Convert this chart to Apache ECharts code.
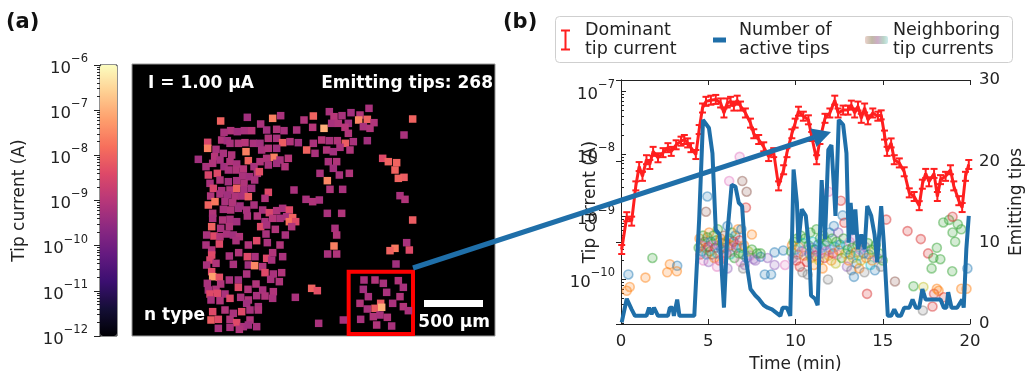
<!DOCTYPE html>
<html>
<head>
<meta charset="utf-8">
<script src="https://cdn.jsdelivr.net/npm/echarts@6/dist/echarts.min.js"></script>
<style>
  html, body { margin: 0; padding: 0; background: #fff; }
  #chart { width: 1026px; height: 378px; }
</style>
</head>
<body>
<div id="chart"></div>
<script>
// ---- panel (a): emitter map, [x, y, log10(tip current / A)] in map units
const mapTips = [
  [352,82,-9.3],[272,93,-8.0],[428,85,-7.6],[452,77,-9.2],[550,78,-8.0],[522,90,-9.1],[598,65,-9.2],[612,80,-9.0],
  [636,77,-9.2],[663,68,-9.3],[690,75,-9.1],[717,55,-9.2],[686,90,-7.5],[712,88,-8.0],[732,98,-9.1],[848,87,-8.0],
  [582,115,-7.0],[500,120,-9.2],[548,112,-9.0],[605,100,-9.2],[625,100,-9.1],[655,100,-9.3],[645,112,-9.0],[700,110,-9.2],
  [720,115,-9.1],[392,102,-9.2],[410,120,-9.3],[440,118,-9.1],[462,122,-9.2],[302,122,-9.1],[322,125,-9.3],[343,122,-9.2],
  [365,122,-9.0],[282,127,-9.2],[655,130,-9.1],[822,135,-9.2],
  [233,157,-8.5],[233,175,-7.6],[258,178,-9.2],[275,150,-9.1],[292,152,-9.3],[300,160,-9.2],[325,160,-9.1],[345,158,-9.0],
  [370,160,-9.2],[390,160,-9.3],[415,145,-9.1],[440,145,-9.2],[458,158,-8.1],[480,155,-9.1],[505,158,-9.3],[550,160,-9.2],
  [575,150,-9.0],[598,152,-9.2],[622,152,-9.1],[646,160,-8.1],[670,155,-9.2],[660,180,-9.1],[712,152,-9.3],[348,185,-7.6],
  [305,195,-9.1],[280,190,-9.2],[254,200,-9.0],[205,208,-9.3],[530,180,-8.0],[555,190,-9.2],[590,180,-9.1],[610,185,-9.3],
  [630,172,-9.2],[432,202,-7.6],[410,205,-9.1],[450,210,-9.2],[475,205,-9.0],[395,180,-9.2],[415,175,-9.1],[440,175,-9.3],
  [758,205,-8.4],[775,215,-8.0],[800,218,-8.0],[228,230,-9.2],[248,220,-9.1],[270,210,-9.2],[282,230,-9.3],[300,215,-9.1],
  [320,222,-9.2],[340,237,-9.0],[355,212,-8.0],[372,230,-9.2],[390,215,-9.1],[415,225,-9.2],[440,220,-9.3],[465,230,-9.1],
  [595,215,-9.2],[620,215,-9.1],[570,250,-9.2],[610,235,-9.3],[235,255,-8.5],[262,250,-8.4],[295,240,-9.2],[318,240,-9.1],
  [338,258,-9.2],[358,260,-9.3],[382,250,-9.1],[388,245,-8.3],[795,240,-8.0],[822,262,-8.1],[805,265,-8.0],[240,280,-9.2],
  [270,270,-9.1],[295,275,-9.3],[320,272,-9.2],[342,280,-9.1],[374,270,-9.2],[592,272,-7.5],[628,255,-9.2],[658,250,-9.1],
  [250,295,-8.5],[275,302,-9.2],[300,300,-9.1],[320,295,-8.0],[342,300,-9.2],[365,295,-9.3],[415,307,-8.4],[492,300,-9.2],
  [600,298,-9.1],[638,298,-9.2],[242,318,-9.1],[270,312,-9.2],[292,315,-9.3],[315,318,-9.1],[335,318,-9.2],[355,320,-8.1],
  [810,317,-9.2],[825,328,-9.1],[235,345,-8.0],[255,335,-7.7],[285,335,-9.2],[308,338,-9.1],[330,348,-9.3],[372,345,-9.2],
  [405,325,-9.1],[528,328,-9.2],[548,335,-9.1],[568,330,-9.2],[280,358,-9.2],[302,360,-9.1],[325,355,-9.3],[350,360,-9.2],
  [248,370,-9.1],[398,360,-9.2],[418,368,-8.5],[440,362,-9.1],[458,355,-9.2],[478,360,-8.4],[470,380,-9.2],[488,383,-8.0],
  [248,385,-9.2],[278,390,-9.1],[300,388,-9.2],[320,395,-9.3],[352,378,-9.2],[382,378,-9.1],[405,395,-9.2],[428,385,-9.0],
  [450,385,-9.2],[478,395,-7.8],[497,395,-8.4],[848,390,-8.1],[592,370,-9.2],[635,370,-9.1],[245,410,-8.0],[272,415,-9.2],
  [298,410,-9.1],[392,410,-8.4],[410,405,-9.2],[436,418,-9.1],[466,435,-9.2],[485,410,-9.1],[230,435,-9.2],[252,438,-8.4],
  [270,440,-9.1],[290,432,-9.2],[310,435,-9.3],[328,440,-9.1],[380,452,-8.4],[408,432,-9.2],[615,415,-9.2],[620,435,-9.1],
  [228,465,-9.2],[245,480,-9.1],[268,462,-8.4],[318,452,-9.2],[355,465,-9.1],[412,458,-9.2],[450,465,-9.1],[612,468,-7.6],
  [593,492,-9.2],[620,492,-9.1],[830,458,-9.2],[795,475,-7.7],[780,482,-8.0],[838,480,-8.4],[245,495,-8.4],[240,510,-8.5],
  [298,498,-9.2],[326,488,-9.1],[352,500,-8.4],[375,500,-9.2],[410,505,-8.4],[428,488,-9.1],[458,500,-9.2],[230,525,-9.2],
  [258,520,-9.1],[310,523,-9.2],[355,525,-9.3],[374,527,-7.5],[398,530,-9.1],[425,510,-9.2],[798,522,-9.3],
  [245,545,-8.4],[248,560,-7.2],[268,562,-8.3],[232,580,-9.2],[272,582,-9.1],[298,570,-9.2],[325,570,-9.3],[350,552,-9.2],
  [378,582,-9.1],[405,548,-8.4],[430,552,-9.2],[455,548,-9.1],[422,568,-9.2],[448,575,-9.1],[235,600,-9.2],[258,598,-9.1],
  [240,612,-8.4],[262,610,-8.4],[285,612,-9.2],[325,592,-8.4],[354,598,-9.1],[398,600,-9.2],[430,605,-9.1],[545,595,-8.0],
  [562,602,-8.3],[496,622,-9.2],[640,690,-9.2],
  [243,630,-9.2],[270,632,-9.1],[300,625,-8.4],[332,622,-9.2],[355,630,-9.1],[380,617,-9.2],[405,618,-9.1],[428,625,-9.2],
  [350,640,-9.3],[385,650,-9.2],[248,665,-8.4],[285,660,-9.1],[310,670,-9.2],[335,665,-8.4],[360,660,-9.2],[385,660,-9.1],
  [243,690,-8.1],[265,688,-8.4],[265,715,-9.2],[300,688,-9.1],[320,698,-8.4],[340,710,-9.2],[360,690,-9.1],[380,710,-9.2],
  [300,712,-9.2],[328,718,-9.1],[355,705,-9.3],[566,700,-9.2],
  [702,570,-9.2],[735,570,-9.1],[760,580,-9.2],[805,572,-9.1],[820,592,-9.2],[700,598,-9.3],[770,607,-9.2],[690,640,-9.1],
  [712,657,-9.2],[735,655,-8.1],[752,640,-8.1],[755,652,-7.0],[788,640,-9.2],[820,650,-9.1],[835,662,-9.2],[730,680,-9.1],
  [750,675,-9.2],[772,682,-9.1],[692,688,-9.2],[740,705,-9.1],[785,708,-9.2],[810,620,-9.1],[715,620,-9.2]
];
const zoomBox = [[656, 545], [849, 732]];
const scaleBar = [[882, 630], [1059, 651]];

// ---- panel (b): dominant tip current (A) vs time (min)
const dominantTime = [0.04,0.33,0.61,0.85,1.04,1.23,1.46,1.65,1.84,2.12,2.41,2.69,2.88,3.16,3.44,3.63,3.82,4.01,4.29,4.48,
  4.67,4.87,5.15,5.43,5.71,5.90,6.09,6.28,6.47,6.66,6.85,7.13,7.42,7.61,7.89,8.18,8.46,8.75,9.03,9.32,
  9.51,9.79,9.98,10.17,10.45,10.74,10.93,11.21,11.40,11.69,11.97,12.25,12.44,12.73,13.01,13.20,13.39,13.58,13.77,13.96,
  14.15,14.43,14.72,14.91,15.10,15.25,15.48,15.66,15.95,16.23,16.52,16.80,17.09,17.27,17.46,17.65,17.94,18.13,18.31,18.60,
  18.88,19.07,19.36,19.55,19.74,19.93];
const dominantCurrent = [3.0e-10,1.0e-9,8.5e-10,3.1e-9,6.3e-9,4.4e-9,8.1e-9,6.8e-9,1.1e-8,8.7e-9,1.05e-8,1.26e-8,1.1e-8,1.4e-8,1.6e-8,1.7e-8,1.5e-8,1.26e-8,9.8e-9,2.45e-8,
  5.4e-8,6.9e-8,7.2e-8,7.4e-8,6.5e-8,4.5e-8,6.5e-8,6.9e-8,5.8e-8,7.2e-8,5.8e-8,4.5e-8,3.1e-8,2.1e-8,1.7e-8,1.3e-8,9.1e-9,1.05e-8,3.1e-9,5.6e-9,
  1.05e-8,2.1e-8,3.1e-8,4.8e-8,4.0e-8,3.5e-8,1.9e-8,8.1e-9,1.7e-8,3.7e-8,4.5e-8,7.2e-8,4.5e-8,5.0e-8,5.0e-8,6.0e-8,4.5e-8,5.8e-8,3.7e-8,5.4e-8,
  3.5e-8,4.5e-8,4.0e-8,4.2e-8,2.0e-8,1.1e-8,1.5e-8,8.1e-9,7.2e-9,5.2e-9,2.4e-9,2.1e-9,1.5e-9,3.3e-9,4.9e-9,3.6e-9,4.9e-9,2.1e-9,3.9e-9,4.4e-9,
  5.6e-9,3.1e-9,1.8e-9,1.4e-9,4.4e-9,6.8e-9];
const dominantRelErr = 0.18;

// number of active tips vs time (min)
const tipsTime = [0.04,0.33,0.61,0.80,1.46,1.61,1.75,1.89,2.12,2.69,2.80,2.95,3.03,3.22,3.35,4.20,4.48,4.70,5.04,5.24,
  5.43,5.65,5.90,6.09,6.34,6.56,6.75,6.94,7.13,7.42,7.70,7.89,8.18,8.40,8.65,9.13,9.26,9.51,9.70,9.89,
  10.08,10.17,10.36,10.59,10.78,10.89,11.12,11.27,11.50,11.69,11.88,12.06,12.21,12.29,12.48,12.73,12.92,13.05,13.16,13.30,
  13.43,13.58,13.77,13.96,14.11,14.34,14.53,14.68,14.91,15.06,15.29,15.48,15.66,15.85,16.04,16.23,16.52,16.71,16.90,17.09,
  17.27,17.46,18.31,18.50,18.65,18.75,18.94,19.26,19.55,19.64,19.79,19.93];
const tipsCount = [0.2,3.1,1.8,1,1,2,1.2,2,1,1,2,2,1,3,1,1,12.9,25.1,24.1,21,
  11.6,11,2,11,17.1,16.9,14.9,14.5,8.4,4.3,3.5,3.1,2.3,2,1.8,1,2,2,1,19,
  14.9,10,14.1,13.3,9.2,3.5,3.1,2.3,17.7,10.4,21.4,22,16.5,13.3,25.1,24.5,21,10,14.9,11,
  14.1,9.2,11,9.2,14.5,13.3,11,7.6,14.5,10,1,1,1.8,1,1,2,2,3,2,2,
  4.3,3,3,2,2,3.9,2,2,3,2,9.2,13.3];

// neighboring tip currents: [time (min), current (A), colour index]
const neighborPoints = [
  [0.42,1.2e-10,0],[0.5,7.6e-11,1],[0.33,6.6e-11,1],[1.4,1.07e-10,1],[1.8,2.2e-10,2],[2.65,1.3e-10,1],[2.8,1.75e-10,1],[3.22,1.65e-10,0],[3.2,1.35e-10,1],
  [4.45,3.2e-10,2],[4.5,4.5e-10,1],[4.55,2.5e-10,3],[4.6,3.5e-10,4],[4.65,2.8e-10,0],[4.7,5.0e-10,2],[4.72,2.0e-10,6],[4.8,4.0e-10,5],
  [4.85,3.2e-10,1],[4.9,2.5e-10,9],[4.95,4.7e-10,2],[5.0,3.3e-10,3],[5.02,1.9e-10,4],[5.05,5.6e-10,1],[5.1,2.8e-10,2],[5.15,4.0e-10,0],
  [5.2,2.5e-10,5],[5.25,3.5e-10,6],[5.3,5.0e-10,2],[5.35,2.2e-10,1],[5.4,3.2e-10,3],[5.45,4.2e-10,2],[5.5,2.6e-10,9],[5.55,6.3e-10,2],
  [5.6,3.5e-10,4],[5.65,2.0e-10,3],[5.7,4.5e-10,1],[5.75,3.0e-10,0],[5.8,3.8e-10,2],[5.85,2.4e-10,6],[5.9,5.0e-10,5],[5.95,3.2e-10,2],
  [6.0,4.0e-10,1],[6.05,2.6e-10,3],[6.1,7.1e-10,0],[6.15,3.3e-10,4],[6.2,4.5e-10,2],[6.25,2.5e-10,9],[6.3,3.5e-10,1],[6.35,5.6e-10,2],
  [6.4,2.8e-10,6],[6.45,4.0e-10,3],[6.5,2.2e-10,2],[6.55,5.0e-10,0],[6.6,3.2e-10,5],[6.65,3.5e-10,4],[6.7,6.3e-10,1],[6.75,2.6e-10,2],
  [6.8,4.2e-10,3],[6.85,1.9e-10,6],[6.9,3.2e-10,9],[7.0,2.5e-10,2],[7.05,3.5e-10,1],[7.1,1.7e-10,4],[7.2,2.2e-10,0],[7.3,2.8e-10,8],
  [7.4,2.4e-10,6],[7.6,2.1e-10,4],[7.8,2.6e-10,2],[8.0,2.3e-10,0],[5.5,1.6e-10,6],[6.1,1.5e-10,4],[7.0,1.5e-10,7],[8.6,1.2e-10,0],
  [4.87,1.2e-9,5],[4.95,2.1e-9,0],[6.2,3.7e-9,6],[6.95,3.7e-9,5],[7.2,2.5e-9,5],[6.8,9e-9,6],[7.16,1.4e-9,3],[7.5,5.2e-10,1],
  [6.9,6.3e-10,0],[8.8,2.7e-10,0],[9.3,2.9e-10,0],[8.24,1.2e-10,0],[8.8,1.7e-10,4],[9.4,1.7e-10,6],[8.4,2.2e-10,4],[8.0,2.6e-10,2],
  [7.5,3.0e-10,2],[7.7,2.0e-10,4],
  [9.75,2.8e-10,2],[9.8,3.5e-10,1],[9.85,2.2e-10,4],[9.9,4.0e-10,2],[10.0,3.0e-10,9],[10.05,2.0e-10,3],[10.1,4.5e-10,2],[10.15,2.5e-10,7],
  [10.2,3.3e-10,1],[10.25,1.6e-10,3],[10.3,5.0e-10,2],[10.35,2.8e-10,4],[10.4,1.3e-10,7],[10.45,3.8e-10,9],[10.5,2.4e-10,1],[10.55,4.5e-10,2],
  [10.6,3.0e-10,6],[10.65,1.9e-10,3],[10.7,1.2e-10,7],[10.75,3.5e-10,2],[10.8,2.6e-10,0],[10.85,5.6e-10,2],[10.9,2.2e-10,8],[10.95,3.2e-10,4],
  [11.0,4.0e-10,9],[11.05,1.7e-10,1],[11.1,3.0e-10,2],[11.15,2.4e-10,3],[11.2,6.3e-10,2],[11.25,2.8e-10,6],[11.3,3.6e-10,0],[11.35,2.0e-10,8],
  [11.4,4.5e-10,2],[11.45,2.6e-10,4],[11.5,3.2e-10,9],[11.55,1.5e-10,1],[11.6,5.0e-10,2],[11.65,2.2e-10,3],[11.7,3.5e-10,0],[11.75,2.8e-10,6],
  [11.8,4.0e-10,2],[11.86,1.0e-10,7],[11.9,2.4e-10,8],[11.95,5.6e-10,0],[12.0,3.0e-10,4],[12.05,2.0e-10,1],[12.1,4.5e-10,2],[12.15,2.6e-10,3],
  [12.2,7.1e-10,0],[12.25,3.3e-10,9],[12.3,1.8e-10,8],[12.35,4.0e-10,2],[12.4,2.5e-10,6],[12.45,5.6e-10,4],[12.5,2.9e-10,1],[12.55,3.6e-10,0],
  [12.6,1.8e-9,3],[12.65,2.2e-10,2],[12.7,1.05e-9,0],[12.75,4.5e-10,2],[12.8,8e-10,3],[12.85,2.6e-10,8],[12.9,3.5e-10,9],[12.95,1.6e-10,4],
  [13.0,3.0e-10,2],[13.05,2.0e-10,1],[13.1,4.0e-10,6],[13.15,2.5e-10,0],[13.2,1.4e-10,7],[13.25,3.2e-10,2],[13.3,2.2e-10,8],[13.35,1.1e-10,0],
  [13.4,4.5e-10,4],[13.45,2.7e-10,1],[13.5,1.8e-10,0],[13.55,3.5e-10,2],[13.6,2.4e-10,9],[13.65,1.5e-10,1],[13.7,3.0e-10,6],[13.75,2.0e-10,8],
  [13.8,4.0e-10,2],[13.9,2.6e-10,0],[13.95,1.3e-10,7],[14.0,3.3e-10,4],[14.05,2.2e-10,1],[14.1,5.9e-11,3],[14.15,3.8e-10,2],[14.2,2.5e-10,0],
  [14.3,1.7e-10,9],[14.35,3.0e-10,2],[14.4,2.0e-10,1],[14.5,2.8e-10,8],[14.55,1.4e-10,0],[14.6,3.5e-10,2],[14.7,2.2e-10,4],[14.8,2.6e-10,2],
  [14.9,1.6e-10,7],[15.0,2.0e-10,2],[15.2,9e-10,3],[11.9,2.5e-9,6],
  [15.7,9.3e-11,5],[16.42,5.9e-10,3],[16.76,7.8e-11,2],[17.18,4.4e-10,3],[17.33,7.6e-11,8],[17.6,2.6e-10,3],[17.9,2.2e-10,2],[18.3,2.1e-10,2],
  [17.8,1.5e-10,2],[18.1,3.2e-10,2],[18.98,1.35e-10,2],[18.47,8.1e-10,2],[18.8,8.9e-10,2],[19.0,5.6e-10,2],[19.3,7.6e-10,2],[19.15,4.0e-10,2],
  [19.5,6.3e-10,2],[19.0,1.0e-9,3],[17.94,5.9e-11,3],[18.1,7.1e-11,1],[18.2,6.6e-11,1],[18.5,5.2e-11,3],[19.5,7.1e-11,1],[17.3,3.2e-11,7],
  [17.85,3.7e-11,3],[19.8,7.1e-11,1],[19.85,1.5e-10,0]
];

const FONT = "'DejaVu Sans', sans-serif";
const magma = ['#000004','#140e36','#3b0f70','#641a80','#8c2981','#b73779','#de4968','#f7705c','#fe9f6d','#fecf92','#fcfdbf'];
const tab10 = ['#1f77b4','#ff7f0e','#2ca02c','#d62728','#9467bd','#8c564b','#e377c2','#7f7f7f','#bcbd22','#17becf'];
const RED = '#ff1f1f';
const BLUE = '#1f6fa9';

const rgba = (hex, a) => {
  const n = parseInt(hex.slice(1), 16);
  return 'rgba(' + (n >> 16) + ',' + ((n >> 8) & 255) + ',' + (n & 255) + ',' + a + ')';
};

const supLabel = (v) => {
  const e = Math.log10(v);
  const r = Math.round(e);
  if (Math.abs(e - r) > 1e-6) return '';
  return '{b|10}{s|' + (r < 0 ? '\u2212' + (-r) : r) + '}';
};
const supRich = {
  b: { fontSize: 16.5, fontFamily: FONT, color: '#222', lineHeight: 24, verticalAlign: 'bottom' },
  s: { fontSize: 11.5, fontFamily: FONT, color: '#222', lineHeight: 24, verticalAlign: 'top' },
};
const legendText = { fontSize: 17.5, lineHeight: 19, color: '#222', fontFamily: FONT };

const chart = echarts.init(document.getElementById('chart'));

chart.setOption({
  animation: false,
  textStyle: { fontFamily: FONT },
  grid: [
    { left: 132, top: 64, width: 363, height: 272, show: true, backgroundColor: '#000', borderColor: '#999', borderWidth: 1 },
    { left: 100, top: 65, width: 17, height: 271, show: true, backgroundColor: 'transparent', borderColor: '#222', borderWidth: 1 },
    { left: 621, top: 80, width: 352, height: 245 },
  ],
  xAxis: [
    { gridIndex: 0, type: 'value', min: 6, max: 1095, show: false },
    { gridIndex: 1, type: 'value', min: 0, max: 1, show: false },
    {
      gridIndex: 2, type: 'value', min: 0, max: 20, interval: 5,
      name: 'Time (min)', nameLocation: 'middle', nameGap: 32,
      nameTextStyle: { fontSize: 17, color: '#222', fontFamily: FONT },
      axisLine: { lineStyle: { color: '#222', width: 1 } },
      axisTick: { inside: true, length: 5, lineStyle: { color: '#222' } },
      axisLabel: { fontSize: 16.5, color: '#222', margin: 9, fontFamily: FONT },
      splitLine: { show: false },
    },
    {
      gridIndex: 2, type: 'value', min: 0, max: 20, interval: 5, position: 'top',
      axisLine: { lineStyle: { color: '#222', width: 1 } },
      axisTick: { inside: true, length: 5, lineStyle: { color: '#222' } },
      axisLabel: { show: false },
      splitLine: { show: false },
    },
  ],
  yAxis: [
    { gridIndex: 0, type: 'value', min: -78, max: 738, inverse: true, show: false },
    {
      gridIndex: 1, type: 'log', min: 1e-12, max: 1e-6, position: 'left',
      name: 'Tip current (A)', nameLocation: 'middle', nameGap: 72, nameRotate: 90,
      nameTextStyle: { fontSize: 17, color: '#222', fontFamily: FONT },
      axisLine: { show: true, lineStyle: { color: '#222' } },
      axisTick: { show: true, inside: false, length: 6, lineStyle: { color: '#222' } },
      minorTick: { show: true, splitNumber: 9, length: 3, lineStyle: { color: '#222' } },
      axisLabel: { formatter: supLabel, rich: supRich, margin: 12 },
      splitLine: { show: false },
    },
    {
      gridIndex: 2, type: 'log', min: 1.95e-11, max: 1.51e-7, position: 'left',
      name: 'Tip current (A)', nameLocation: 'middle', nameGap: 22, nameRotate: 90, nameMoveOverlap: false,
      nameTextStyle: { fontSize: 17, color: '#222', fontFamily: FONT },
      axisLine: { show: true, lineStyle: { color: '#222' } },
      axisTick: { show: true, inside: true, length: 5, lineStyle: { color: '#222' } },
      minorTick: { show: true, splitNumber: 9, length: 3, lineStyle: { color: '#222' } },
      axisLabel: { formatter: supLabel, rich: supRich, margin: 6, showMinLabel: false, showMaxLabel: false },
      splitLine: { show: false },
    },
    {
      gridIndex: 2, type: 'value', min: 0, max: 30, interval: 10, position: 'right',
      name: 'Emitting tips', nameLocation: 'middle', nameGap: 38, nameRotate: 90,
      nameTextStyle: { fontSize: 17, color: '#222', fontFamily: FONT },
      axisLine: { show: true, lineStyle: { color: '#222' } },
      axisTick: { show: true, inside: true, length: 5, lineStyle: { color: '#222' } },
      axisLabel: { fontSize: 16.5, color: '#222', margin: 9, fontFamily: FONT },
      splitLine: { show: false },
    },
  ],
  visualMap: {
    type: 'continuous', min: -12, max: -6, dimension: 2, seriesIndex: 0,
    left: 100, top: 65, itemWidth: 17, itemHeight: 271, padding: 0,
    calculable: false, text: null, hoverLink: false,
    inRange: { color: magma },
  },
  legend: [
    {
      left: 561, top: 21, padding: 0, selectedMode: false, itemWidth: 9, itemHeight: 21,
      textStyle: Object.assign({ padding: [0, 0, 0, 10] }, legendText),
      data: [{ name: 'Dominant\ntip current', icon: 'path://M0,0H9V2H5.5V19H9V21H0V19H3.5V2H0Z', itemStyle: { color: RED } }],
    },
    {
      left: 713, top: 21, padding: 0, selectedMode: false, itemWidth: 13, itemHeight: 5,
      textStyle: Object.assign({ padding: [0, 0, 0, 8] }, legendText),
      data: [{ name: 'Number of\nactive tips', icon: 'rect', itemStyle: { color: BLUE } }],
    },
    {
      left: 865, top: 21, padding: 0, selectedMode: false, itemWidth: 23, itemHeight: 8,
      textStyle: legendText,
      data: [{
        name: 'Neighboring\ntip currents', icon: 'roundRect',
        itemStyle: {
          color: new echarts.graphic.LinearGradient(0, 0, 1, 0, [
            { offset: 0, color: '#e6c8c0' }, { offset: 0.3, color: '#b0a890' },
            { offset: 0.55, color: '#c098b8' }, { offset: 0.8, color: '#a8c8b8' }, { offset: 1, color: '#bfe8e8' },
          ]),
        },
      }],
    },
  ],
  series: [
    {
      type: 'scatter', xAxisIndex: 0, yAxisIndex: 0, symbol: 'rect', symbolSize: 7.5,
      data: mapTips, silent: true, itemStyle: { opacity: 1 },
      markArea: {
        silent: true,
        data: [
          [{ coord: zoomBox[0], itemStyle: { color: 'rgba(0,0,0,0)', borderColor: '#ff0000', borderWidth: 4 } }, { coord: zoomBox[1] }],
          [{ coord: scaleBar[0], itemStyle: { color: '#fff', borderWidth: 0 } }, { coord: scaleBar[1] }],
        ],
      },
    },
    {
      name: 'Neighboring\ntip currents', type: 'scatter', xAxisIndex: 2, yAxisIndex: 2,
      symbol: 'circle', symbolSize: 9, silent: true, z: 2,
      data: neighborPoints.map((p) => ({
        value: [p[0], p[1]],
        itemStyle: { opacity: 1, color: rgba(tab10[p[2]], 0.2), borderColor: rgba(tab10[p[2]], 0.45), borderWidth: 1.6 },
      })),
    },
    {
      name: 'Dominant\ntip current', type: 'line', xAxisIndex: 2, yAxisIndex: 2, z: 3,
      data: dominantTime.map((t, i) => [t, dominantCurrent[i]]),
      showSymbol: false, lineStyle: { color: RED, width: 3 }, itemStyle: { color: RED }, silent: true,
    },
    {
      type: 'custom', xAxisIndex: 2, yAxisIndex: 2, z: 3, silent: true,
      data: dominantTime.map((t, i) => [t, dominantCurrent[i] / (1 + dominantRelErr), dominantCurrent[i] * (1 + dominantRelErr)]),
      encode: { x: 0, y: [1, 2] },
      renderItem: (params, api) => {
        const hi = api.coord([api.value(0), api.value(2)]);
        const lo = api.coord([api.value(0), api.value(1)]);
        const st = { stroke: RED, lineWidth: 2 };
        return {
          type: 'group',
          children: [
            { type: 'line', shape: { x1: hi[0], y1: hi[1], x2: lo[0], y2: lo[1] }, style: st },
            { type: 'line', shape: { x1: hi[0] - 3.5, y1: hi[1], x2: hi[0] + 3.5, y2: hi[1] }, style: st },
            { type: 'line', shape: { x1: lo[0] - 3.5, y1: lo[1], x2: lo[0] + 3.5, y2: lo[1] }, style: st },
          ],
        };
      },
    },
    {
      name: 'Number of\nactive tips', type: 'line', xAxisIndex: 2, yAxisIndex: 3, z: 4,
      data: tipsTime.map((t, i) => [t, tipsCount[i]]),
      showSymbol: false, lineStyle: { color: BLUE, width: 4 }, itemStyle: { color: BLUE }, silent: true,
    },
  ],
  graphic: [
    { type: 'rect', z: 1, shape: { x: 555.5, y: 16.5, width: 457, height: 46, r: 4 }, style: { fill: '#fff', stroke: '#cfcfcf', lineWidth: 1 } },
    { type: 'text', z: 10, x: 6, y: 23, style: { text: '(a)', font: 'bold 21px ' + FONT, fill: '#111', verticalAlign: 'middle' } },
    { type: 'text', z: 10, x: 503, y: 23, style: { text: '(b)', font: 'bold 21px ' + FONT, fill: '#111', verticalAlign: 'middle' } },
    { type: 'text', z: 10, x: 148, y: 84, style: { text: 'I = 1.00 \u00b5A', font: 'bold 17px ' + FONT, fill: '#fff', verticalAlign: 'middle' } },
    { type: 'text', z: 10, x: 493, y: 84, style: { text: 'Emitting tips: 268', font: 'bold 17px ' + FONT, fill: '#fff', align: 'right', verticalAlign: 'middle' } },
    { type: 'text', z: 10, x: 144, y: 316, style: { text: 'n type', font: 'bold 17px ' + FONT, fill: '#fff', verticalAlign: 'middle' } },
    { type: 'text', z: 10, x: 490, y: 323, style: { text: '500 \u00b5m', font: 'bold 17px ' + FONT, fill: '#fff', align: 'right', verticalAlign: 'middle' } },
    { type: 'line', z: 100, shape: { x1: 413, y1: 268, x2: 814, y2: 137.3 }, style: { stroke: BLUE, lineWidth: 5 } },
    { type: 'polygon', z: 100, shape: { points: [[831, 132], [816.5, 147], [810.5, 128.5]] }, style: { fill: BLUE } },
  ],
});
</script>
</body>
</html>
